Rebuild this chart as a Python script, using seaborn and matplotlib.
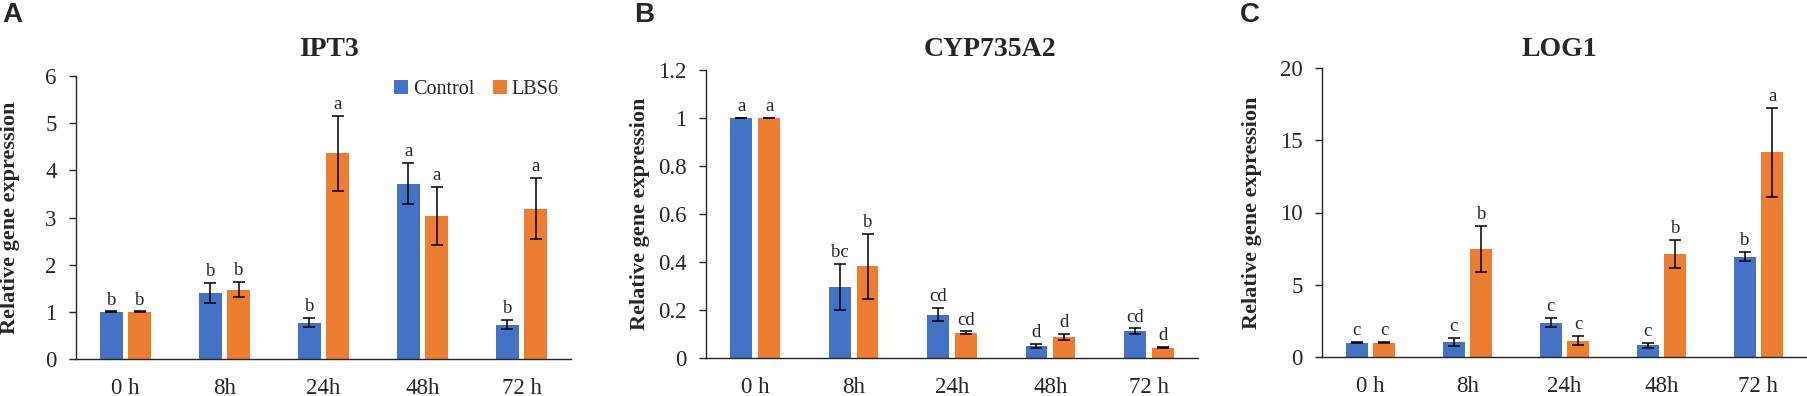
import numpy as np
import pandas as pd
import matplotlib
matplotlib.use("Agg")
import matplotlib.pyplot as plt
from matplotlib.ticker import FuncFormatter
import seaborn as sns

# --- data ---
times = ["0 h", "8h", "24h", "48h", "72 h"]
groups = ["Control", "LBS6"]

ipt3_control = [1.0, 1.40, 0.77, 3.72, 0.73]
ipt3_control_err = [0.01, 0.22, 0.095, 0.43, 0.095]
ipt3_lbs6 = [1.0, 1.47, 4.36, 3.03, 3.19]
ipt3_lbs6_err = [0.01, 0.165, 0.79, 0.62, 0.65]
ipt3_control_letters = ["b", "b", "b", "a", "b"]
ipt3_lbs6_letters = ["b", "b", "a", "a", "a"]

cyp_control = [1.0, 0.295, 0.181, 0.05, 0.111]
cyp_control_err = [0.002, 0.097, 0.028, 0.008, 0.0125]
cyp_lbs6 = [1.0, 0.382, 0.106, 0.089, 0.043]
cyp_lbs6_err = [0.002, 0.136, 0.005, 0.0125, 0.002]
cyp_control_letters = ["a", "bc", "cd", "d", "cd"]
cyp_lbs6_letters = ["a", "b", "cd", "d", "d"]

log1_control = [1.0, 1.04, 2.38, 0.81, 6.94]
log1_control_err = [0.03, 0.26, 0.31, 0.16, 0.32]
log1_lbs6 = [1.0, 7.49, 1.13, 7.14, 14.17]
log1_lbs6_err = [0.03, 1.58, 0.32, 0.98, 3.08]
log1_control_letters = ["c", "c", "c", "c", "b"]
log1_lbs6_letters = ["c", "b", "c", "b", "a"]

panels = [
    ("A", "IPT3", ipt3_control, ipt3_control_err, ipt3_lbs6, ipt3_lbs6_err,
     ipt3_control_letters, ipt3_lbs6_letters, 6, 1),
    ("B", "CYP735A2", cyp_control, cyp_control_err, cyp_lbs6, cyp_lbs6_err,
     cyp_control_letters, cyp_lbs6_letters, 1.2, 0.2),
    ("C", "LOG1", log1_control, log1_control_err, log1_lbs6, log1_lbs6_err,
     log1_control_letters, log1_lbs6_letters, 20, 5),
]

colors = ["#4472C4", "#ED7D31"]

sns.set_style("ticks")
plt.rcParams["font.family"] = ["Liberation Serif", "DejaVu Serif"]

W, H = 1807, 396
fig = plt.figure(figsize=(W / 100, H / 100), dpi=100)

# axes boxes in pixels: left, right, y of zero, y of top
boxes = [(76, 571, 359, 76), (706, 1198, 358, 70), (1322, 1807, 357, 68)]
ylabel_x = [10, 640, 1252]
title_x = [329, 990, 1559]
letter_x = [2, 634, 1240]

for i, (letter, title, c_val, c_err, l_val, l_err, c_let, l_let, ymax, step) in enumerate(panels):
    x0, x1, yb, yt = boxes[i]
    ax = fig.add_axes([x0 / W, 1 - yb / H, (x1 - x0) / W, (yb - yt) / H])

    df = pd.DataFrame({
        "time": times * 2,
        "group": [groups[0]] * 5 + [groups[1]] * 5,
        "value": c_val + l_val,
    })
    sns.barplot(data=df, x="time", y="value", hue="group", order=times,
                hue_order=groups, palette=colors, saturation=1,
                width=0.566, gap=0.214, errorbar=None, linewidth=0,
                legend=(i == 0), ax=ax)

    # error bars + significance letters on top of each bar
    errs = [c_err, l_err]
    lets = [c_let, l_let]
    for cont, e_list, let_list in zip(ax.containers, errs, lets):
        for bar, e, t in zip(cont, e_list, let_list):
            xc = bar.get_x() + bar.get_width() / 2
            h = bar.get_height()
            ax.errorbar(xc, h, yerr=e, fmt="none", ecolor="black",
                        elinewidth=1.1, capsize=4, capthick=1.1)
            ax.annotate(t, (xc, h + e), xytext=(0, 2), textcoords="offset points",
                        ha="center", va="bottom", fontsize=13.5)

    ax.set_xlim(-0.5, 4.5)
    ax.set_ylim(0, ymax)
    ax.set_yticks(np.arange(0, ymax + step / 2, step))
    ax.yaxis.set_major_formatter(FuncFormatter(lambda v, p: f"{round(v, 2):g}"))
    ax.set_xlabel("")
    ax.set_ylabel("Relative gene expression", fontsize=16, fontweight="bold")
    ax.yaxis.set_label_coords((ylabel_x[i] - x0) / (x1 - x0), 0.5)
    ax.yaxis.label.set_va("center")
    ax.tick_params(axis="x", length=0, pad=14, labelsize=16.5)
    ax.tick_params(axis="y", length=5, width=1, pad=9, labelsize=16.5, direction="out")
    for s in ["left", "bottom"]:
        ax.spines[s].set_linewidth(1.0)
        ax.spines[s].set_color("#262626")
    sns.despine(ax=ax)

    if i == 0:
        ax.legend(loc="upper right", bbox_to_anchor=(1.0, 1.03), ncol=2, frameon=False,
                  fontsize=14.5, handlelength=0.7, handleheight=0.7,
                  handletextpad=0.25, columnspacing=0.9, borderaxespad=0.2)

    fig.text(title_x[i] / W, 1 - 56 / H, title, ha="center", va="baseline",
             fontsize=20, fontweight="bold")
    fig.text(letter_x[i] / W, 1 - 2 / H, letter, ha="left", va="top",
             fontsize=20, fontweight="bold", family=["Liberation Sans", "DejaVu Sans"])

fig.savefig("out.png", dpi=100)
